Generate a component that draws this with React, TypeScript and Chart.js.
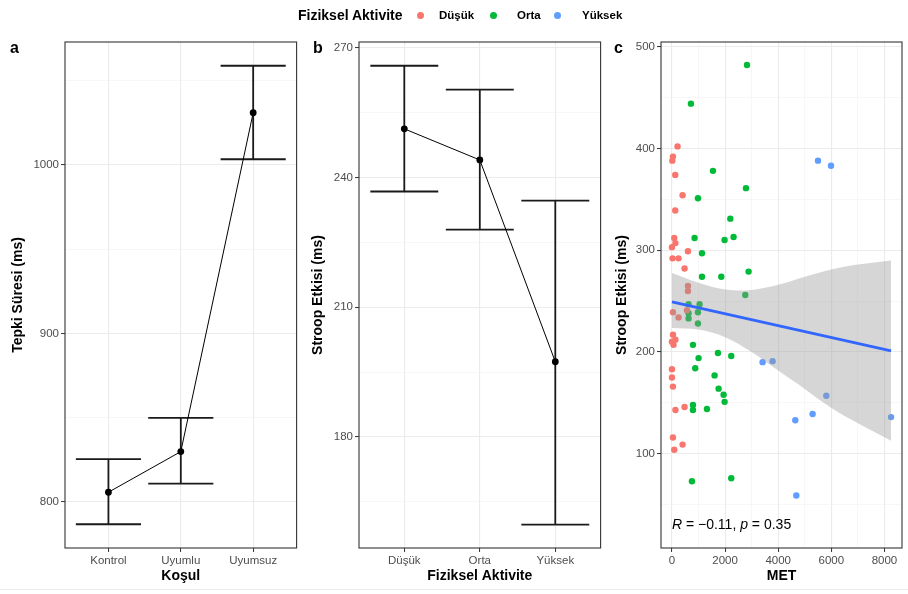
import React, { useEffect, useRef } from "react";
import { Chart, registerables } from "chart.js";

Chart.register(...registerables);

const FONT = "'Liberation Sans', Arial, Helvetica, sans-serif";
Chart.defaults.font.family = FONT;

// ---------- Panel a: reaction time by condition ----------
const conditionLabels = ["Kontrol", "Uyumlu", "Uyumsuz"];
const rtMean = [805.8, 829.9, 1031];
const rtLow = [786.8, 810.9, 1003.4];
const rtHigh = [825.5, 849.9, 1058.9];
const rtMajorTicks = [800, 900, 1000];
const rtMinorTicks = [850, 950, 1050];

// ---------- Panel b: Stroop effect by activity ----------
const activityLabels = ["Düşük", "Orta", "Yüksek"];
const stroopMean = [251.3, 244.1, 197.4];
const stroopLow = [236.8, 228.0, 159.7];
const stroopHigh = [265.9, 260.4, 234.7];
const stroopMajorTicks = [180, 210, 240, 270];
const stroopMinorTicks = [165, 195, 225, 255];

// ---------- Panel c: MET vs Stroop effect ----------
const lowMET = [211, 38, 15, 124, 400, 124, 87, 130, 0, 602, 23, 249, 474, 602, 602, 38, 249, 565, 40, 130, 60, 0, 0, 0, 38, 132, 474, 38, 400, 87];
const lowStroop = [402, 392, 388, 374, 354, 339, 312, 307, 303, 299, 292, 292, 282, 265, 260, 239, 234, 241, 217, 212, 207, 210, 183, 175, 166, 143, 146, 116, 109, 104];

const midMET = [2825, 715, 1544, 2787, 979, 2196, 851, 1981, 2320, 1130, 1130, 1857, 2885, 2760, 625, 625, 625, 1040, 979, 979, 791, 1002, 1732, 2233, 877, 1605, 1756, 1944, 1982, 791, 791, 1318, 753, 2233];
const midStroop = [482, 444, 378, 361, 351, 331, 312, 310, 313, 297, 274, 274, 279, 256, 247, 238, 233, 247, 239, 228, 207, 194, 199, 196, 184, 177, 164, 158, 151, 148, 143, 144, 73, 76];

const highMET = [5498, 5988, 3412, 3789, 5811, 4643, 5295, 8248, 4681];
const highStroop = [388, 383, 190, 191, 157, 133, 139, 136, 59];

const fitMET = [0, 8248];
const fitStroop = [249.2, 201.2];
const bandMET = [0, 1000, 2000, 3000, 4000, 5000, 6000, 7000, 8248];
const bandUpper = [277.7, 268, 261.5, 261, 266, 274, 281, 286, 290];
const bandLower = [223.6, 222, 214.5, 200, 181.7, 163.7, 145, 130, 112.8];

const metMajorTicks = [0, 2000, 4000, 6000, 8000];
const metMinorTicks = [1000, 3000, 5000, 7000];
const cMajorTicks = [100, 200, 300, 400, 500];
const cMinorTicks = [50, 150, 250, 350, 450];

const corrParts: [string, boolean][] = [
  ["R", true],
  [" = \u22120.11, ", false],
  ["p", true],
  [" = 0.35", false],
];

const legendTitle = "Fiziksel Aktivite";
const legendLabels = ["Düşük", "Orta", "Yüksek"];
const legendColors = ["#F8766D", "#00BA38", "#619CFF"];

// ---------- styling helpers ----------
const tickFont = { family: FONT, size: 11.5 };
const titleFont = { family: FONT, size: 14, weight: "bold" as const };
const CAP_HALF = 0.45;
const legendDotX = [420, 493, 557];
const legendTextX = [439, 517, 582];

const framePlugin = {
  id: "frame",
  afterDraw(chart: any) {
    const { ctx, chartArea: a } = chart;
    ctx.save();
    ctx.strokeStyle = "#333333";
    ctx.lineWidth = 1.1;
    ctx.strokeRect(a.left, a.top, a.right - a.left, a.bottom - a.top);
    ctx.restore();
  },
};

function tickAxis(
  min: number,
  max: number,
  major: number[],
  minor: number[],
  title: string,
  isX: boolean,
  size: number,
  labelFn?: (v: number) => string
) {
  const isMajor = (v: number) => major.includes(v);
  return {
    type: "linear",
    min,
    max,
    afterBuildTicks: (s: any) => {
      s.ticks = [...major, ...minor].sort((p, q) => p - q).map((v) => ({ value: v }));
    },
    afterFit: (s: any) => {
      if (isX) s.height = size;
      else s.width = size;
    },
    ticks: {
      autoSkip: false,
      maxRotation: 0,
      padding: 2,
      color: "#4d4d4d",
      font: tickFont,
      callback: (v: number) => (isMajor(v) ? (labelFn ? labelFn(v) : String(v)) : ""),
    },
    grid: {
      color: (c: any) => (c.tick && isMajor(c.tick.value) ? "#ebebeb" : "#f1f1f1"),
      lineWidth: (c: any) => (c.tick && isMajor(c.tick.value) ? 1.1 : 0.6),
      tickLength: 4,
      tickColor: (c: any) => (c.tick && isMajor(c.tick.value) ? "#333333" : "rgba(0,0,0,0)"),
      tickWidth: 1,
    },
    border: { display: false },
    title: {
      display: true,
      text: title,
      color: "#000",
      font: titleFont,
      padding: isX ? { top: 0, bottom: 9.6 } : { top: 9.6, bottom: 0 },
    },
  };
}

function errorBarPath(low: number[], high: number[]) {
  const pts: { x: number; y: number | null }[] = [];
  low.forEach((lo, i) => {
    const x = i + 1;
    const hi = high[i];
    pts.push(
      { x: x - CAP_HALF, y: hi },
      { x: x + CAP_HALF, y: hi },
      { x: x + CAP_HALF, y: null },
      { x, y: hi },
      { x, y: lo },
      { x, y: null },
      { x: x - CAP_HALF, y: lo },
      { x: x + CAP_HALF, y: lo },
      { x: x + CAP_HALF, y: null }
    );
  });
  return pts;
}

function meanPanelConfig(
  labels: string[],
  mean: number[],
  low: number[],
  high: number[],
  yMin: number,
  yMax: number,
  major: number[],
  minor: number[],
  yTitle: string,
  xTitle: string,
  yWidth: number,
  padRight: number
): any {
  return {
    type: "line",
    data: {
      datasets: [
        {
          data: mean.map((m, i) => ({ x: i + 1, y: m })),
          borderColor: "#000",
          borderWidth: 1,
          pointRadius: 3.4,
          pointHoverRadius: 3.4,
          pointBackgroundColor: "#000",
          pointBorderWidth: 0,
        },
        {
          data: errorBarPath(low, high),
          borderColor: "#1a1a1a",
          borderWidth: 1.8,
          pointRadius: 0,
          pointHoverRadius: 0,
          spanGaps: false,
        },
      ],
    },
    options: {
      responsive: false,
      animation: false,
      devicePixelRatio: 1,
      events: [],
      layout: { padding: { top: 42, right: padRight, left: 0, bottom: 0 } },
      plugins: { legend: { display: false }, tooltip: { enabled: false } },
      scales: {
        x: tickAxis(0.4, 3.6, [1, 2, 3], [], xTitle, true, 46, (v) => labels[Math.round(v) - 1]),
        y: tickAxis(yMin, yMax, major, minor, yTitle, false, yWidth),
      },
    },
    plugins: [framePlugin],
  };
}

const corrPlugin = {
  id: "corrText",
  afterDatasetsDraw(chart: any) {
    const { ctx, scales } = chart;
    let px = scales.x.getPixelForValue(0);
    const py = scales.y.getPixelForValue(30);
    ctx.save();
    ctx.fillStyle = "#000";
    ctx.textBaseline = "middle";
    ctx.textAlign = "left";
    corrParts.forEach(([t, italic]) => {
      ctx.font = `${italic ? "italic " : ""}14px ${FONT}`;
      ctx.fillText(t, px, py);
      px += ctx.measureText(t).width;
    });
    ctx.restore();
  },
};

function scatterConfig(): any {
  const pts = (xs: number[], ys: number[]) => xs.map((x, i) => ({ x, y: ys[i] }));
  const pointStyle = (color: string) => ({
    type: "scatter",
    backgroundColor: color,
    borderWidth: 0,
    pointRadius: 3.2,
    pointHoverRadius: 3.2,
  });
  return {
    type: "scatter",
    data: {
      datasets: [
        {
          type: "line",
          data: pts(fitMET, fitStroop),
          borderColor: "#3366FF",
          borderWidth: 2.8,
          pointRadius: 0,
          pointHoverRadius: 0,
          fill: false,
        },
        {
          type: "line",
          data: pts(bandMET, bandUpper),
          borderColor: "rgba(0,0,0,0)",
          borderWidth: 0,
          pointRadius: 0,
          pointHoverRadius: 0,
          tension: 0.35,
          fill: "+1",
          backgroundColor: "rgba(153,153,153,0.4)",
        },
        {
          type: "line",
          data: pts(bandMET, bandLower),
          borderColor: "rgba(0,0,0,0)",
          borderWidth: 0,
          pointRadius: 0,
          pointHoverRadius: 0,
          tension: 0.35,
          fill: false,
        },
        { data: pts(lowMET, lowStroop), ...pointStyle(legendColors[0]) },
        { data: pts(midMET, midStroop), ...pointStyle(legendColors[1]) },
        { data: pts(highMET, highStroop), ...pointStyle(legendColors[2]) },
      ],
    },
    options: {
      responsive: false,
      animation: false,
      devicePixelRatio: 1,
      events: [],
      layout: { padding: { top: 42, right: 6, left: 0, bottom: 0 } },
      plugins: { legend: { display: false }, tooltip: { enabled: false } },
      scales: {
        x: tickAxis(-412, 8660, metMajorTicks, metMinorTicks, "MET", true, 46),
        y: tickAxis(7.4, 504.6, cMajorTicks, cMinorTicks, "Stroop Etkisi (ms)", false, 57),
      },
    },
    plugins: [corrPlugin, framePlugin],
  };
}

const panelLabelStyle = (left: number): React.CSSProperties => ({
  position: "absolute",
  left,
  top: 40,
  fontFamily: FONT,
  fontWeight: "bold",
  fontSize: 16,
  lineHeight: "16px",
  color: "#000",
});

export default function App() {
  const aRef = useRef<HTMLCanvasElement>(null);
  const bRef = useRef<HTMLCanvasElement>(null);
  const cRef = useRef<HTMLCanvasElement>(null);

  useEffect(() => {
    const charts = [
      new Chart(
        aRef.current as HTMLCanvasElement,
        meanPanelConfig(conditionLabels, rtMean, rtLow, rtHigh, 772.7, 1073, rtMajorTicks, rtMinorTicks, "Tepki Süresi (ms)", "Koşul", 65, 2)
      ),
      new Chart(
        bRef.current as HTMLCanvasElement,
        meanPanelConfig(activityLabels, stroopMean, stroopLow, stroopHigh, 154.3, 271.4, stroopMajorTicks, stroopMinorTicks, "Stroop Etkisi (ms)", "Fiziksel Aktivite", 59, 2)
      ),
      new Chart(cRef.current as HTMLCanvasElement, scatterConfig()),
    ];
    return () => charts.forEach((c) => c.destroy());
  }, []);

  const canvasStyle = (left: number, width: number): React.CSSProperties => ({
    position: "absolute",
    left,
    top: 0,
    width,
    height: 594,
  });

  const rowStyle = (left: number): React.CSSProperties => ({
    position: "absolute",
    left,
    top: 6,
    height: 18,
    display: "flex",
    alignItems: "center",
    whiteSpace: "nowrap",
    color: "#000",
  });

  return (
    <div
      style={{
        position: "absolute",
        left: 0,
        top: 0,
        width: 908,
        height: 594,
        background: "#fff",
        overflow: "hidden",
        fontFamily: FONT,
      }}
    >
      <canvas ref={aRef} width={300} height={594} style={canvasStyle(0, 300)} />
      <canvas ref={bRef} width={304} height={594} style={canvasStyle(300, 304)} />
      <canvas ref={cRef} width={304} height={594} style={canvasStyle(604, 304)} />

      <div style={panelLabelStyle(10)}>a</div>
      <div style={panelLabelStyle(313)}>b</div>
      <div style={panelLabelStyle(614)}>c</div>

      <div style={rowStyle(298)}>
        <span style={{ fontWeight: "bold", fontSize: 14 }}>{legendTitle}</span>
      </div>
      {legendLabels.map((label, i) => (
        <React.Fragment key={label}>
          <div style={rowStyle(legendDotX[i] - 3.5)}>
            <span
              style={{
                display: "inline-block",
                width: 7,
                height: 7,
                borderRadius: "50%",
                background: legendColors[i],
              }}
            />
          </div>
          <div style={rowStyle(legendTextX[i])}>
            <span style={{ fontWeight: "bold", fontSize: 11.5 }}>{label}</span>
          </div>
        </React.Fragment>
      ))}

      <div style={{ position: "absolute", left: 0, top: 589, width: 908, height: 1, background: "#e9e9e9" }} />
    </div>
  );
}
